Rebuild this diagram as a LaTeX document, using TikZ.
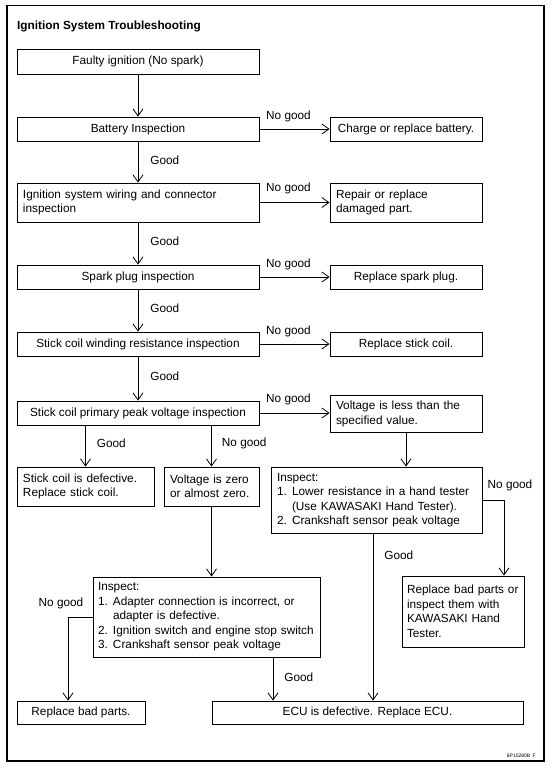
\documentclass[tikz,border=0pt]{standalone}
\usepackage{fontspec}
\setmainfont{Liberation Sans}
\usetikzlibrary{arrows.meta,calc}
\newcommand{\itm}[1]{\makebox[15pt][l]{#1}}
\newcommand{\fsz}{\fontsize{11.8}{14.5}\selectfont}
\begin{document}
\begin{tikzpicture}[x=1pt,y=-1pt,
  box/.style={draw, line width=0.9pt, inner xsep=6pt, inner ysep=0pt, font=\fsz, align=center},
  lbox/.style={box, align=left},
  lbl/.style={inner sep=0pt, font=\fsz},
  arr/.style={line width=0.8pt, -{Straight Barb[length=7pt,width=10pt,line width=0.8pt]}}]
\useasboundingbox (0,0) rectangle (552,774);
\draw[line width=1.2pt] (7,5.5) rectangle (544,761);
\node[lbl, anchor=west, font={\fsz\bfseries}] (title) at (17,26) {Ignition System Troubleshooting};

% main column
\node[box, minimum width=242pt, minimum height=25pt] (b1) at (138,61.5) {Faulty ignition (No spark)};
\node[box, minimum width=242pt, minimum height=24pt] (b2) at (138,129) {Battery Inspection};
\node[lbox, text width=230pt, minimum height=39pt] (b3) at (138,202.5) {Ignition system wiring and connector\\inspection};
\node[box, minimum width=242pt, minimum height=24pt] (b4) at (138,277) {Spark plug inspection};
\node[box, minimum width=242pt, minimum height=24pt] (b5) at (138,344) {Stick coil winding resistance inspection};
\node[box, minimum width=242pt, minimum height=24pt] (b6) at (138,413) {Stick coil primary peak voltage inspection};

% right column
\node[box, minimum width=152pt, minimum height=24pt] (r2) at (406,129) {Charge or replace battery.};
\node[lbox, text width=140pt, minimum height=39pt] (r3) at (406,202.5) {Repair or replace\\damaged part.};
\node[box, minimum width=152pt, minimum height=24pt] (r4) at (406,277) {Replace spark plug.};
\node[box, minimum width=152pt, minimum height=24pt] (r5) at (406,344) {Replace stick coil.};
\node[lbox, text width=140pt, minimum height=37pt] (r6) at (406,414) {Voltage is less than the\\specified value.};

% lower part
\node[lbox, text width=125pt, minimum height=39pt] (c1) at (85.5,486.5) {Stick coil is defective.\\Replace stick coil.};
\node[lbox, text width=83pt, minimum height=39pt] (c2) at (211.5,486.5) {Voltage is zero\\or almost zero.};
\node[lbox, text width=199pt, minimum height=66pt] (i1) at (376.5,500) {Inspect:\\\itm{1.}Lower resistance in a hand tester\\\hspace*{15pt}(Use KAWASAKI Hand Tester).\\\itm{2.}Crankshaft sensor peak voltage};
\node[lbox, inner xsep=5pt, text width=112pt, minimum height=71pt] (rb) at (463,611.5) {Replace bad parts or\\inspect them with\\KAWASAKI Hand\\Tester.};
\node[lbox, inner xsep=5pt, text width=217pt, minimum height=80pt] (i2) at (206.5,617) {Inspect:\\\itm{1.}Adapter connection is incorrect, or\\\hspace*{15pt}adapter is defective.\\\itm{2.}Ignition switch and engine stop switch\\\itm{3.}Crankshaft sensor peak voltage};
\node[box, minimum width=128pt, minimum height=23pt] (rp) at (81,712.5) {Replace bad parts.};
\node[box, minimum width=311pt, minimum height=23pt] (ecu) at (367.5,712.5) {ECU is defective. Replace ECU.};

\node[inner sep=0pt, font=\fontsize{5}{6}\selectfont, anchor=east] (code) at (536,756) {6P10280B\enspace F};

\coordinate (kA) at (504,0);
\coordinate (kB) at (373,0);
\coordinate (kC) at (68,0);
\coordinate (kD) at (273,0);

% main column connectors
\draw[arr] (b1) -- (b2);
\draw[arr] (b2) -- node[lbl, anchor=west, xshift=12pt, pos=0.45] {Good} (b3);
\draw[arr] (b3) -- node[lbl, anchor=west, xshift=12pt, pos=0.45] {Good} (b4);
\draw[arr] (b4) -- node[lbl, anchor=west, xshift=12pt, pos=0.45] {Good} (b5);
\draw[arr] (b5) -- node[lbl, anchor=west, xshift=12pt, pos=0.45] {Good} (b6);

\draw[arr] (b2.east) -- node[lbl, yshift=13pt, xshift=-6pt] {No good} (b2.east -| r2.west);
\draw[arr] (b3.east) -- node[lbl, yshift=14pt, xshift=-6pt] {No good} (b3.east -| r3.west);
\draw[arr] (b4.east) -- node[lbl, yshift=13pt, xshift=-6pt] {No good} (b4.east -| r4.west);
\draw[arr] (b5.east) -- node[lbl, yshift=13pt, xshift=-6pt] {No good} (b5.east -| r5.west);
\draw[arr] (b6.east) -- node[lbl, yshift=14pt, xshift=-6pt] {No good} (b6.east -| r6.west);

% lower connectors
\draw[arr] (c1.north |- b6.south) -- node[lbl, anchor=west, xshift=11pt, pos=0.43] {Good} (c1.north);
\draw[arr] (c2.north |- b6.south) -- node[lbl, anchor=west, xshift=10pt, pos=0.43] {No good} (c2.north);
\draw[arr] (r6.south) -- (r6.south |- i1.north);
\draw[arr] (i1.east) -- (i1.east -| kA) -- (kA |- rb.north);
\node[lbl] (ng1) at ($(i1.east -| kA)+(6,-15)$) {No good};
\draw[arr] (kB |- i1.south) -- node[lbl, anchor=west, xshift=11pt, pos=0.13] {Good} (kB |- ecu.north);
\draw[arr] (c2.south) -- (c2.south |- i2.north);
\draw[arr] (i2.west) -- (i2.west -| kC) -- (kC |- rp.north);
\node[lbl] (ng2) at ($(i2.west -| kC)+(-7,-14)$) {No good};
\draw[arr] (kD |- i2.south) -- node[lbl, anchor=west, xshift=11pt, pos=0.45] {Good} (kD |- ecu.north);
\end{tikzpicture}
\end{document}
